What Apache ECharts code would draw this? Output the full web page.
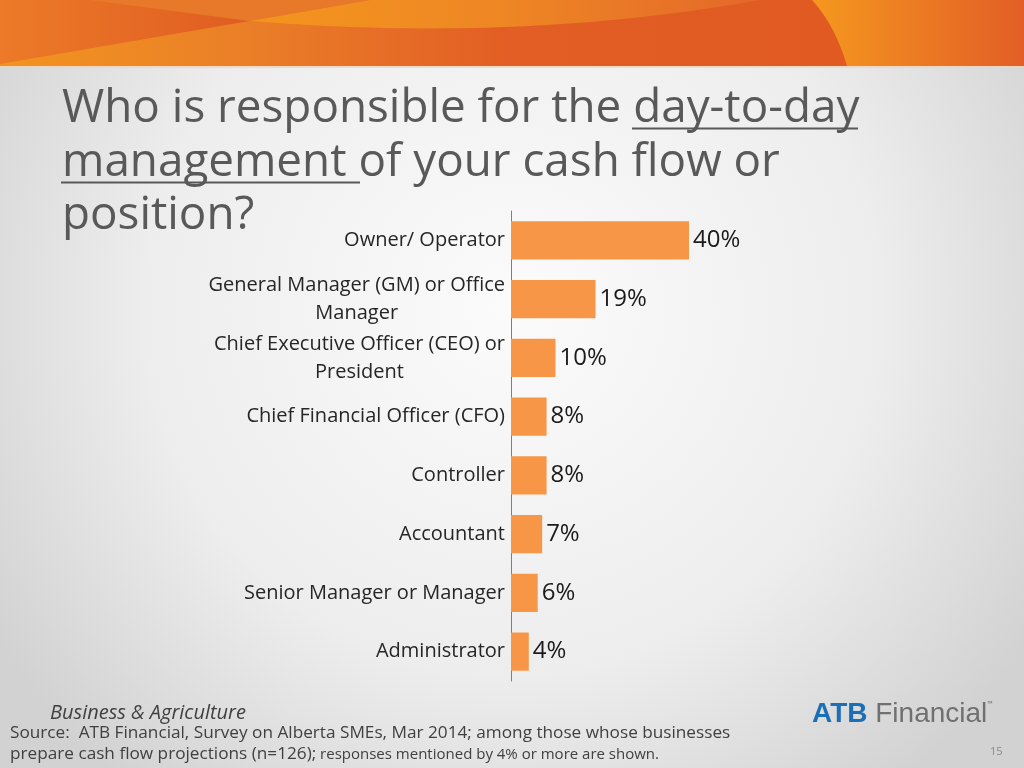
<!DOCTYPE html>
<html>
<head>
<meta charset="utf-8">
<script src="https://cdn.jsdelivr.net/npm/echarts@6/dist/echarts.min.js"></script>
<style>html,body{margin:0;padding:0;}#c{width:1024px;height:768px;}</style>
</head>
<body>
<div id="c"></div>
<script>
const categories = [
  'Owner/ Operator',
  'General Manager (GM) or Office\nManager',
  'Chief Executive Officer (CEO) or\nPresident',
  'Chief Financial Officer (CFO)',
  'Controller',
  'Accountant',
  'Senior Manager or Manager',
  'Administrator'
];
const values = [40, 19, 10, 8, 8, 7, 6, 4];
const titleLines = ['Who is responsible for the day-to-day', 'management of your cash flow or', 'position?'];
const footerSource = 'Source:  ATB Financial, Survey on Alberta SMEs, Mar 2014; among those whose businesses';
const footerLine2a = 'prepare cash flow projections (n=126);';
const footerLine2b = ' responses mentioned by 4% or more are shown.';

const chart = echarts.init(document.getElementById('c'), null, {renderer: 'canvas'});
const font = '"Open Sans", "Noto Sans", sans-serif';

// quadratic curve points for decorative banner shapes
function quad(p0, p1, p2, n) {
  const pts = [];
  for (let i = 0; i <= n; i++) {
    const t = i / n, u = 1 - t;
    pts.push([u*u*p0[0] + 2*u*t*p1[0] + t*t*p2[0], u*u*p0[1] + 2*u*t*p1[1] + t*t*p2[1]]);
  }
  return pts;
}
const midCurve = quad([250, 21], [519, 43], [760, 0], 40);
const rightCurve = quad([812, 0], [835, 25], [847, 66], 20);
const bottomBand = [[0, 66], [0, 64]].concat(midCurve, rightCurve, [[0, 66]]);
const lightPatch = [[370, 0], [760, 0]].concat(midCurve.slice().reverse());
const rightPatch = rightCurve.concat([[1024, 66], [1024, 0]]);
const hGrad = (stops) => ({type: 'linear', x: 0, y: 0, x2: 1, y2: 0, colorStops: stops});

chart.setOption({
  animation: false,
  backgroundColor: {
    type: 'radial', x: 0.5, y: 0.4, r: 0.8,
    colorStops: [{offset: 0, color: '#fbfbfb'}, {offset: 0.6, color: '#ededed'}, {offset: 1, color: '#d2d2d2'}]
  },
  grid: {left: 511, top: 211, width: 445, height: 470, containLabel: false},
  xAxis: {type: 'value', min: 0, max: 100, show: false},
  yAxis: {
    type: 'category', data: categories, inverse: true,
    axisLine: {show: true, lineStyle: {color: '#7f7f7f', width: 1}},
    axisTick: {show: false},
    axisLabel: {
      margin: 6, align: 'right',
      formatter: function (v) {
        return v.split('\n').map(s => '{c|' + s + '}').join('\n');
      },
      rich: {c: {align: 'center', fontFamily: font, fontSize: 20, color: '#262626', lineHeight: 28}}
    }
  },
  series: [{
    type: 'bar', data: values, barCategoryGap: '35%',
    itemStyle: {color: '#f79646'},
    label: {show: true, position: 'right', distance: 4, formatter: '{c}%',
      fontFamily: font, fontSize: 24, color: '#1a1a1a'}
  }],
  graphic: [
    {type: 'rect', shape: {x: 0, y: 0, width: 1024, height: 66}, silent: true,
      style: {fill: hGrad([{offset: 0, color: '#e87a28'}, {offset: 0.5, color: '#e05c22'}, {offset: 1, color: '#e05a22'}])}},
    {type: 'polygon', silent: true, shape: {points: [[0, 0], [90, 0], [250, 21], [0, 64]]},
      style: {fill: hGrad([{offset: 0, color: '#ec7a28'}, {offset: 1, color: '#e05c22'}])}},
    {type: 'polygon', silent: true, shape: {points: [[90, 0], [370, 0], [250, 21]]},
      style: {fill: '#e8782a'}},
    {type: 'polygon', silent: true, shape: {points: bottomBand},
      style: {fill: hGrad([{offset: 0, color: '#f2941f'}, {offset: 0.3, color: '#ea7e28'}, {offset: 0.6, color: '#e25e24'}, {offset: 1, color: '#e05a22'}])}},
    {type: 'polygon', silent: true, shape: {points: lightPatch},
      style: {fill: hGrad([{offset: 0, color: '#f4951e'}, {offset: 0.5, color: '#ee8624'}, {offset: 1, color: '#e4682a'}])}},
    {type: 'polygon', silent: true, shape: {points: rightPatch},
      style: {fill: hGrad([{offset: 0, color: '#f5981f'}, {offset: 1, color: '#e25e26'}])}},
    {type: 'rect', silent: true, shape: {x: 0, y: 66, width: 1024, height: 2}, style: {fill: '#f3d2b8', opacity: 0.7}},
    {type: 'text', silent: true, x: 62, y: 86,
      style: {text: titleLines[0], fontFamily: font, fontSize: 45.8, fill: '#595959'}},
    {type: 'text', silent: true, x: 62, y: 139.5,
      style: {text: titleLines[1], fontFamily: font, fontSize: 45.8, fill: '#595959'}},
    {type: 'text', silent: true, x: 62, y: 193,
      style: {text: titleLines[2], fontFamily: font, fontSize: 45.8, fill: '#595959'}},
    {type: 'line', silent: true, shape: {x1: 632, y1: 128.5, x2: 858, y2: 128.5}, style: {stroke: '#595959', lineWidth: 2}},
    {type: 'line', silent: true, shape: {x1: 61, y1: 182.5, x2: 360, y2: 182.5}, style: {stroke: '#595959', lineWidth: 2}},
    {type: 'text', silent: true, x: 50, y: 703,
      style: {text: 'Business & Agriculture', fontFamily: font, fontStyle: 'italic', fontSize: 20, fill: '#404040'}},
    {type: 'text', silent: true, x: 10, y: 725,
      style: {text: footerSource, fontFamily: font, fontSize: 17.2, fill: '#404040'}},
    {type: 'text', silent: true, x: 10, y: 746,
      style: {text: '{a|' + footerLine2a + '}{b|' + footerLine2b + '}', fontFamily: font, fill: '#404040',
        rich: {a: {fontFamily: font, fontSize: 17.2, fill: '#404040'}, b: {fontFamily: font, fontSize: 15, fill: '#404040'}}}},
    {type: 'text', silent: true, x: 812, y: 700,
      style: {text: '{a|ATB}{b| Financial}{c|™}', rich: {
        a: {fontFamily: '"Liberation Sans", Arial, sans-serif', fontWeight: 'bold', fontSize: 28, fill: '#1b6fb8'},
        b: {fontFamily: '"Liberation Sans", Arial, sans-serif', fontSize: 28, fill: '#707070'},
        c: {fontFamily: font, fontSize: 7, fill: '#707070', verticalAlign: 'top'}}}},
    {type: 'text', silent: true, x: 990, y: 746,
      style: {text: '15', fontFamily: font, fontSize: 11, fill: '#8a8a8a'}}
  ]
});
</script>
</body>
</html>
